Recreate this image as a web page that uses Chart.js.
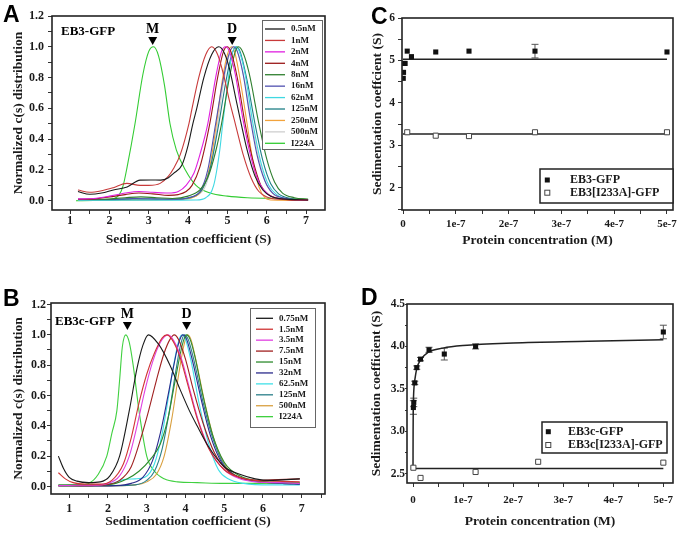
<!DOCTYPE html>
<html>
<head>
<meta charset="utf-8">
<title>EB3 sedimentation velocity</title>
<script src="https://cdn.jsdelivr.net/npm/chart.js@4.4.1/dist/chart.umd.min.js"></script>
<style>
  body { margin: 0; background: #fff; }
  #fig { position: relative; width: 683px; height: 536px; overflow: hidden; background: #fff; }
  .panel { position: absolute; }
  .tag { position: absolute; font: bold 23px "Liberation Sans", Arial, sans-serif; line-height: 23px; color: #000; }
</style>
</head>
<body>
<div id="fig">
  <div class="panel" style="left:0;top:0;width:340px;height:268px"><canvas id="chartA"></canvas></div>
  <div class="panel" style="left:340px;top:0;width:343px;height:268px"><canvas id="chartC"></canvas></div>
  <div class="panel" style="left:0;top:268px;width:340px;height:268px"><canvas id="chartB"></canvas></div>
  <div class="panel" style="left:340px;top:268px;width:343px;height:268px"><canvas id="chartD"></canvas></div>
  <div class="tag" style="left:3px;top:3px">A</div>
  <div class="tag" style="left:371px;top:5px">C</div>
  <div class="tag" style="left:3px;top:287px">B</div>
  <div class="tag" style="left:361px;top:286px">D</div>
</div>
<script>
// ---- Panel A: EB3-GFP, normalized c(s), points are [S, c(s)] ----
const labelsA = ["0.5nM", "1nM", "2nM", "4nM", "8nM", "16nM", "62nM", "125nM", "250nM", "500nM", "I224A"];
const colorsA = ["#1a1a1a", "#c83a3a", "#e020e0", "#9a1818", "#2f7f2f", "#5050b0", "#3fd8e2", "#1f7f86", "#f2a33c", "#cfcfcf", "#33cc33"];
const a_05 = [[1.2,0.06],[1.5,0.042],[1.8,0.05],[2.1,0.07],[2.45,0.09],[2.78,0.134],[3.05,0.135],[3.3,0.134],[3.5,0.15],[3.63,0.178],[3.84,0.23],[4.0,0.36],[4.12,0.5],[4.22,0.6],[4.4,0.8],[4.6,0.95],[4.78,1.0],[4.92,0.96],[5.05,0.86],[5.2,0.68],[5.35,0.5],[5.5,0.33],[5.7,0.16],[5.9,0.07],[6.1,0.03],[6.4,0.012],[7.05,0.005]];
const a_1 = [[1.2,0.07],[1.5,0.055],[1.8,0.065],[2.1,0.085],[2.44,0.113],[2.78,0.1],[3.0,0.1],[3.29,0.113],[3.5,0.16],[3.63,0.21],[3.8,0.3],[4.02,0.5],[4.1,0.6],[4.27,0.8],[4.45,0.95],[4.6,1.0],[4.75,0.95],[4.9,0.82],[5.05,0.65],[5.2,0.5],[5.4,0.3],[5.6,0.15],[5.8,0.06],[6.0,0.025],[6.3,0.01],[7.05,0.005]];
const a_2 = [[1.2,0.012],[1.6,0.015],[2.0,0.03],[2.4,0.05],[2.75,0.06],[3.1,0.055],[3.5,0.05],[3.75,0.06],[3.95,0.1],[4.15,0.18],[4.3,0.3],[4.5,0.5],[4.7,0.8],[4.85,0.97],[4.95,1.0],[5.05,0.97],[5.2,0.82],[5.4,0.52],[5.6,0.28],[5.8,0.12],[6.0,0.05],[6.3,0.015],[7.05,0.005]];
const a_4 = [[1.2,0.01],[1.6,0.012],[2.0,0.025],[2.4,0.04],[2.75,0.05],[3.1,0.045],[3.5,0.035],[3.75,0.04],[3.95,0.06],[4.1,0.1],[4.3,0.22],[4.55,0.5],[4.75,0.8],[4.9,0.97],[5.0,1.0],[5.1,0.96],[5.25,0.8],[5.45,0.5],[5.65,0.26],[5.85,0.1],[6.05,0.04],[6.4,0.01],[7.05,0.003]];
const a_8 = [[1.2,0.01],[1.8,0.01],[2.4,0.02],[2.8,0.025],[3.2,0.02],[3.6,0.015],[4.0,0.03],[4.3,0.07],[4.5,0.15],[4.7,0.32],[4.85,0.5],[5.05,0.8],[5.2,0.97],[5.28,1.0],[5.4,0.96],[5.55,0.83],[5.8,0.5],[6.0,0.27],[6.2,0.12],[6.4,0.05],[6.7,0.02],[7.05,0.01]];
const a_16 = [[1.2,0.008],[2.0,0.008],[2.6,0.015],[3.2,0.012],[3.7,0.01],[4.0,0.02],[4.3,0.06],[4.5,0.2],[4.7,0.5],[4.9,0.8],[5.05,0.96],[5.15,1.0],[5.25,0.97],[5.4,0.82],[5.57,0.55],[5.75,0.3],[5.95,0.13],[6.15,0.05],[6.5,0.015],[7.05,0.005]];
const a_62 = [[1.2,0.003],[2.0,0.003],[3.0,0.004],[3.8,0.004],[4.2,0.005],[4.45,0.02],[4.65,0.1],[4.8,0.32],[4.88,0.5],[5.0,0.75],[5.1,0.93],[5.2,1.0],[5.3,0.97],[5.45,0.82],[5.65,0.5],[5.85,0.25],[6.05,0.1],[6.25,0.04],[6.6,0.01],[7.05,0.004]];
const a_125 = [[1.2,0.005],[2.0,0.006],[2.7,0.012],[3.3,0.01],[3.8,0.012],[4.1,0.025],[4.35,0.07],[4.55,0.2],[4.78,0.5],[4.95,0.76],[5.1,0.94],[5.22,1.0],[5.32,0.97],[5.5,0.78],[5.7,0.5],[5.9,0.26],[6.1,0.11],[6.3,0.045],[6.6,0.015],[7.05,0.005]];
const a_250 = [[1.2,0.004],[2.0,0.004],[3.0,0.005],[3.7,0.008],[4.1,0.02],[4.35,0.07],[4.55,0.22],[4.72,0.5],[4.88,0.8],[5.0,0.95],[5.1,1.0],[5.18,0.97],[5.3,0.82],[5.5,0.5],[5.65,0.25],[5.8,0.09],[5.95,0.02],[6.1,0.005],[7.05,0.002]];
const a_500 = [[1.2,0.005],[2.0,0.005],[3.0,0.008],[3.8,0.01],[4.2,0.03],[4.45,0.1],[4.6,0.25],[4.75,0.5],[4.92,0.8],[5.05,0.95],[5.15,1.0],[5.25,0.97],[5.42,0.8],[5.6,0.53],[5.8,0.27],[6.0,0.1],[6.2,0.035],[6.5,0.01],[7.05,0.004]];
const a_I224A = [[1.15,0.0],[1.6,0.002],[2.0,0.008],[2.25,0.04],[2.35,0.1],[2.45,0.22],[2.65,0.5],[2.85,0.82],[3.0,0.97],[3.12,1.0],[3.25,0.94],[3.4,0.75],[3.54,0.5],[3.7,0.33],[3.93,0.2],[4.2,0.1],[4.56,0.05],[5.0,0.03],[5.5,0.02],[6.5,0.015],[7.05,0.01]];
const curvesA = [a_05, a_1, a_2, a_4, a_8, a_16, a_62, a_125, a_250, a_500, a_I224A];
const peakLabelsA = ["M", "D"];
const peakPosA = [3.1, 5.12];

// ---- Panel B: EB3c-GFP ----
const labelsB = ["0.75nM", "1.5nM", "3.5nM", "7.5nM", "15nM", "32nM", "62.5nM", "125nM", "500nM", "I224A"];
const colorsB = ["#1a1a1a", "#d03434", "#e040e0", "#a02020", "#2e8b2e", "#2a2a8c", "#40e0e8", "#2a7f8a", "#d9a040", "#40d040"];
const b_075 = [[0.72,0.2],[0.85,0.12],[1.0,0.06],[1.2,0.035],[1.5,0.025],[1.8,0.03],[2.05,0.07],[2.3,0.2],[2.55,0.5],[2.75,0.78],[2.9,0.93],[3.04,1.0],[3.3,0.94],[3.6,0.8],[3.86,0.64],[4.1,0.5],[4.3,0.4],[4.6,0.26],[5.0,0.13],[5.4,0.08],[5.8,0.05],[6.2,0.04],[6.6,0.045],[6.95,0.05]];
const b_15 = [[0.72,0.09],[0.9,0.05],[1.1,0.025],[1.4,0.015],[1.8,0.015],[2.1,0.04],[2.4,0.15],[2.6,0.32],[2.8,0.55],[3.0,0.74],[3.2,0.88],[3.4,0.98],[3.52,1.0],[3.65,0.97],[3.85,0.86],[4.05,0.68],[4.3,0.45],[4.6,0.25],[5.0,0.11],[5.4,0.06],[5.8,0.04],[6.3,0.035],[6.95,0.03]];
const b_35 = [[0.72,0.005],[1.2,0.008],[1.6,0.008],[2.0,0.02],[2.3,0.07],[2.55,0.2],[2.75,0.4],[2.95,0.63],[3.15,0.82],[3.35,0.95],[3.55,1.0],[3.7,0.96],[3.9,0.84],[4.1,0.65],[4.35,0.42],[4.65,0.23],[5.0,0.11],[5.4,0.05],[5.8,0.03],[6.4,0.025],[6.95,0.02]];
const b_75 = [[0.72,0.005],[1.4,0.005],[1.9,0.01],[2.3,0.04],[2.6,0.13],[2.85,0.32],[3.05,0.5],[3.25,0.7],[3.45,0.88],[3.6,0.97],[3.71,1.0],[3.82,0.97],[4.0,0.84],[4.2,0.64],[4.45,0.42],[4.75,0.22],[5.1,0.1],[5.5,0.05],[5.9,0.04],[6.4,0.045],[6.95,0.05]];
const b_15nM = [[0.72,0.01],[1.2,0.01],[1.8,0.01],[2.2,0.02],[2.5,0.05],[2.8,0.1],[3.1,0.18],[3.35,0.28],[3.55,0.45],[3.72,0.68],[3.87,0.88],[3.96,0.97],[4.03,1.0],[4.12,0.97],[4.25,0.85],[4.45,0.6],[4.7,0.34],[5.0,0.16],[5.4,0.07],[5.9,0.035],[6.5,0.025],[6.95,0.02]];
const b_32 = [[0.72,0.005],[1.5,0.003],[2.2,0.005],[2.6,0.02],[2.9,0.06],[3.15,0.17],[3.35,0.35],[3.55,0.6],[3.7,0.8],[3.83,0.95],[3.93,1.0],[4.03,0.97],[4.18,0.83],[4.4,0.58],[4.65,0.33],[4.95,0.15],[5.3,0.07],[5.8,0.035],[6.5,0.02],[6.95,0.015]];
const b_625 = [[0.72,0.005],[1.5,0.008],[2.1,0.02],[2.4,0.045],[2.7,0.05],[2.95,0.06],[3.2,0.15],[3.4,0.35],[3.58,0.62],[3.73,0.85],[3.85,0.98],[3.92,1.0],[4.0,0.97],[4.15,0.82],[4.35,0.55],[4.6,0.28],[4.85,0.11],[5.1,0.05],[5.5,0.02],[6.2,0.01],[6.95,0.01]];
const b_125 = [[0.72,0.005],[1.5,0.005],[2.2,0.005],[2.7,0.01],[3.0,0.04],[3.2,0.1],[3.4,0.25],[3.6,0.52],[3.75,0.76],[3.87,0.93],[3.97,1.0],[4.07,0.97],[4.22,0.83],[4.45,0.56],[4.7,0.32],[5.0,0.14],[5.3,0.07],[5.8,0.035],[6.5,0.02],[6.95,0.015]];
const b_500 = [[0.72,0.003],[1.5,0.003],[2.2,0.005],[2.7,0.01],[3.0,0.03],[3.25,0.08],[3.45,0.2],[3.65,0.45],[3.8,0.7],[3.95,0.92],[4.05,1.0],[4.14,0.97],[4.28,0.82],[4.5,0.55],[4.75,0.3],[5.05,0.13],[5.4,0.06],[5.9,0.03],[6.5,0.02],[6.95,0.015]];
const b_I224A = [[0.75,0.005],[1.2,0.01],[1.5,0.02],[1.75,0.08],[1.97,0.2],[2.1,0.35],[2.23,0.5],[2.3,0.7],[2.37,0.92],[2.46,1.0],[2.55,0.95],[2.65,0.8],[2.8,0.5],[3.0,0.2],[3.2,0.1],[3.45,0.05],[3.8,0.03],[4.3,0.025],[5.0,0.02],[6.0,0.02],[6.95,0.025]];
const curvesB = [b_075, b_15, b_35, b_75, b_15nM, b_32, b_625, b_125, b_500, b_I224A];
const peakLabelsB = ["M", "D"];
const peakPosB = [2.5, 4.03];

// ---- Panel C: EB3-GFP sedimentation coefficient vs concentration (nM) ----
const concC = [0.5, 1, 2, 4, 8, 16, 62, 125, 250, 500];
const sC = [4.58, 4.72, 4.93, 4.93, 5.22, 5.09, 5.2, 5.22, 5.22, 5.2];
const errC = [0, 0, 0, 0, 0, 0, 0, 0, 0.16, 0];
const concMutC = [8, 62, 125, 250, 500];
const sMutC = [3.31, 3.23, 3.22, 3.31, 3.31];
const fitCx = [0, 500];
const fitCy = [5.03, 5.03];
const fitMutCy = [3.27, 3.27];
const legendC = ["EB3-GFP", "EB3[I233A]-GFP"];

// ---- Panel D: EB3c-GFP ----
const concD = [0.75, 1.5, 3.5, 7.5, 15, 32, 62.5, 125, 500];
const sD = [3.28, 3.34, 3.57, 3.75, 3.85, 3.96, 3.91, 4.0, 4.17];
const errD = [0.08, 0.05, 0.02, 0.02, 0.02, 0.03, 0.07, 0.03, 0.08];
const concMutD = [0.75, 15, 125, 250, 500];
const sMutD = [2.57, 2.45, 2.52, 2.64, 2.63];
const fitDx = [0, 0.2, 0.5, 1, 2, 4, 8, 15, 30, 60, 100, 200, 350, 500];
const fitDy = [2.56, 3.0, 3.25, 3.4, 3.52, 3.62, 3.75, 3.84, 3.93, 3.98, 4.01, 4.04, 4.06, 4.08];
const fitMutDx = [0, 500];
const fitMutDy = [2.56, 2.56];
const legendD = ["EB3c-GFP", "EB3c[I233A]-GFP"];

const SERIF = '"Liberation Serif", "Times New Roman", serif';
const INK = "#1a1a1a";

function zip(xs, ys) {
  return xs.map((x, i) => [x, ys[i]]);
}

// box around the plot area
const frame = {
  id: "frame",
  afterDraw(chart) {
    const { left, top, right, bottom } = chart.chartArea;
    const ctx = chart.ctx;
    ctx.save();
    ctx.strokeStyle = "#222";
    ctx.lineWidth = 1.6;
    ctx.strokeRect(left, top, right - left, bottom - top);
    ctx.restore();
  },
};

const errorBars = {
  id: "errorBars",
  beforeDatasetsDraw(chart) {
    const ctx = chart.ctx;
    const xs = chart.scales.x, ys = chart.scales.y;
    chart.data.datasets.forEach((ds) => {
      if (!ds.errors) return;
      ds.data.forEach((p, j) => {
        const e = ds.errors[j];
        if (!e) return;
        const x = xs.getPixelForValue(p[0]);
        const y1 = ys.getPixelForValue(p[1] + e);
        const y2 = ys.getPixelForValue(p[1] - e);
        ctx.save();
        ctx.strokeStyle = "#555";
        ctx.lineWidth = 1;
        ctx.beginPath();
        ctx.moveTo(x, y1); ctx.lineTo(x, y2);
        ctx.moveTo(x - 3.5, y1); ctx.lineTo(x + 3.5, y1);
        ctx.moveTo(x - 3.5, y2); ctx.lineTo(x + 3.5, y2);
        ctx.stroke();
        ctx.restore();
      });
    });
  },
};

function lineLegend(cfg) {
  return {
    id: "lineLegend",
    afterDraw(chart) {
      const ctx = chart.ctx;
      const [x1, y1, x2, y2] = cfg.box;
      ctx.save();
      ctx.fillStyle = "#fff";
      ctx.fillRect(x1, y1, x2 - x1, y2 - y1);
      ctx.strokeStyle = "#666";
      ctx.lineWidth = 1;
      ctx.strokeRect(x1 + 0.5, y1 + 0.5, x2 - x1, y2 - y1);
      ctx.font = "bold " + cfg.size + "px " + SERIF;
      ctx.textBaseline = "middle";
      ctx.textAlign = "left";
      cfg.labels.forEach((t, i) => {
        const y = cfg.y0 + i * cfg.dy;
        ctx.strokeStyle = cfg.colors[i];
        ctx.lineWidth = 1.3;
        ctx.beginPath();
        ctx.moveTo(cfg.lx[0], y);
        ctx.lineTo(cfg.lx[1], y);
        ctx.stroke();
        ctx.fillStyle = INK;
        ctx.fillText(t, cfg.tx, y);
      });
      ctx.restore();
    },
  };
}

function markLegend(cfg) {
  return {
    id: "markLegend",
    afterDraw(chart) {
      const ctx = chart.ctx;
      const [x1, y1, x2, y2] = cfg.box;
      ctx.save();
      ctx.fillStyle = "#fff";
      ctx.fillRect(x1, y1, x2 - x1, y2 - y1);
      ctx.strokeStyle = "#222";
      ctx.lineWidth = 1.5;
      ctx.strokeRect(x1, y1, x2 - x1, y2 - y1);
      ctx.font = "bold " + cfg.size + "px " + SERIF;
      ctx.textBaseline = "middle";
      ctx.textAlign = "left";
      cfg.labels.forEach((t, i) => {
        const y = cfg.rows[i];
        if (i === 0) {
          ctx.fillStyle = "#111";
          ctx.fillRect(cfg.mx - 2.5, y - 2.5, 5, 5);
        } else {
          ctx.strokeStyle = "#444";
          ctx.lineWidth = 1;
          ctx.strokeRect(cfg.mx - 2.5, y - 2.5, 5, 5);
        }
        ctx.fillStyle = INK;
        ctx.fillText(t, cfg.tx, y);
      });
      ctx.restore();
    },
  };
}

function peakMarks(cfg) {
  return {
    id: "peakMarks",
    afterDraw(chart) {
      const ctx = chart.ctx;
      const xs = chart.scales.x;
      ctx.save();
      ctx.fillStyle = "#000";
      ctx.textBaseline = "alphabetic";
      ctx.textAlign = "left";
      ctx.font = "bold 13px " + SERIF;
      ctx.fillText(cfg.name, cfg.nameX, cfg.nameY);
      ctx.textAlign = "center";
      ctx.font = "bold 14px " + SERIF;
      cfg.labels.forEach((t, i) => {
        const x = xs.getPixelForValue(cfg.at[i]);
        ctx.fillText(t, x, cfg.textY);
        ctx.beginPath();
        ctx.moveTo(x - 4.5, cfg.triY);
        ctx.lineTo(x + 4.5, cfg.triY);
        ctx.lineTo(x, cfg.triY + 8);
        ctx.closePath();
        ctx.fill();
      });
      ctx.restore();
    },
  };
}

function scales(c) {
  const tickFont = { family: SERIF, size: c.tickSize, weight: "bold" };
  const titleFont = { family: SERIF, size: 13.5, weight: "bold" };
  return {
    x: {
      type: "linear",
      position: "bottom",
      min: c.x.min,
      max: c.x.max,
      afterFit: (s) => { s.height = c.x.h; },
      border: { display: false },
      grid: { drawOnChartArea: false, tickLength: 4, tickColor: "#333", tickWidth: 1 },
      ticks: {
        stepSize: c.x.step, autoSkip: false, includeBounds: false, maxRotation: 0,
        padding: c.x.pad, color: INK, font: { ...tickFont, size: c.x.size || c.tickSize }, callback: c.x.fmt,
      },
      title: { display: true, text: c.x.title, color: INK, font: titleFont, padding: { top: 0, bottom: c.x.tpad } },
    },
    y: {
      type: "linear",
      position: "left",
      min: c.y.min,
      max: c.y.max,
      afterFit: (s) => { s.width = c.y.w; },
      border: { display: false },
      grid: { drawOnChartArea: false, tickLength: c.y.tl || 4, tickColor: "#333", tickWidth: 1 },
      ticks: {
        stepSize: c.y.step, autoSkip: false, includeBounds: false,
        padding: c.y.pad, color: INK, font: tickFont, callback: c.y.fmt,
      },
      title: { display: true, text: c.y.title, color: INK, font: titleFont, padding: { top: c.y.tpad, bottom: 0 } },
    },
  };
}

function baseOptions(pad, sc) {
  return {
    responsive: true,
    maintainAspectRatio: false,
    animation: false,
    layout: { autoPadding: false, padding: pad },
    plugins: { legend: { display: false }, tooltip: { enabled: false } },
    scales: sc,
  };
}

const fmtS = (v) => (Math.abs(v - Math.round(v)) < 1e-6 ? String(Math.round(v)) : "");
const fmtC = (v) => {
  const k = Math.round(v * 10);
  return k % 2 === 0 ? (k / 10).toFixed(1) : "";
};
const fmtConc = (v) => {
  const k = Math.round(v);
  if (k === 0) return "0";
  return k % 100 === 0 ? k / 100 + "e-7" : "";
};

function curveSets(curves, colors, labels) {
  return curves.map((pts, i) => ({
    label: labels[i],
    data: pts,
    showLine: true,
    borderColor: colors[i],
    borderWidth: 1.1,
    pointRadius: 0,
    cubicInterpolationMode: "monotone",
  }));
}

// Panel A
new Chart(document.getElementById("chartA"), {
  type: "scatter",
  data: { datasets: curveSets(curvesA, colorsA, labelsA) },
  options: baseOptions(
    { left: 0, top: 16, right: 15, bottom: 0 },
    scales({
      tickSize: 12,
      x: { min: 0.54, max: 7.48, step: 0.5, h: 58, pad: 0, fmt: fmtS, title: "Sedimentation coefficient (S)", tpad: 19.9 },
      y: { min: -0.06, max: 1.2, step: 0.1, w: 52, pad: 4, fmt: fmtC, title: "Normalized c(s) distribution", tpad: 10.9 },
    })
  ),
  plugins: [
    frame,
    peakMarks({ name: "EB3-GFP", nameX: 61, nameY: 35, labels: peakLabelsA, at: peakPosA, textY: 33, triY: 37 }),
    lineLegend({ box: [262, 20, 322, 149], labels: labelsA, colors: colorsA, y0: 29, dy: 11.43, lx: [265, 285], tx: 291, size: 9 }),
  ],
});

// Panel B
new Chart(document.getElementById("chartB"), {
  type: "scatter",
  data: { datasets: curveSets(curvesB, colorsB, labelsB) },
  options: baseOptions(
    { left: 0, top: 35, right: 15, bottom: 0 },
    scales({
      tickSize: 12,
      x: { min: 0.53, max: 7.6, step: 0.5, h: 42, pad: 3.6, fmt: fmtS, title: "Sedimentation coefficient (S)", tpad: 6.2 },
      y: { min: -0.05, max: 1.21, step: 0.1, w: 51, pad: 1, fmt: fmtC, title: "Normalized c(s) distribution", tpad: 10.7 },
    })
  ),
  plugins: [
    frame,
    peakMarks({ name: "EB3c-GFP", nameX: 55, nameY: 57, labels: peakLabelsB, at: peakPosB, textY: 50, triY: 54 }),
    lineLegend({ box: [250, 40, 315, 159], labels: labelsB, colors: colorsB, y0: 50.3, dy: 10.93, lx: [256, 273], tx: 279, size: 9 }),
  ],
});

// Panel C
new Chart(document.getElementById("chartC"), {
  type: "scatter",
  data: {
    datasets: [
      { label: legendC[0], data: zip(concC, sC), errors: errC, pointStyle: "rect", pointRadius: 3.6, backgroundColor: "#111", borderColor: "#111", borderWidth: 0 },
      { label: legendC[1], data: zip(concMutC, sMutC), pointStyle: "rect", pointRadius: 3.6, backgroundColor: "#fff", borderColor: "#444", borderWidth: 1 },
      { label: "fit", data: zip(fitCx, fitCy), showLine: true, pointRadius: 0, borderColor: "#222", borderWidth: 1.5 },
      { label: "fit mutant", data: zip(fitCx, fitMutCy), showLine: true, pointRadius: 0, borderColor: "#222", borderWidth: 1.5 },
    ],
  },
  options: baseOptions(
    { left: 0, top: 18, right: 10, bottom: 0 },
    scales({
      tickSize: 11.5,
      x: { min: -1.9, max: 511.4, step: 50, h: 58, pad: 3.8, size: 11, fmt: fmtConc, title: "Protein concentration (M)", tpad: 19.2 },
      y: { min: 1.48, max: 6, step: 0.5, w: 62, pad: 3, fmt: fmtS, title: "Sedimentation coeffcient (S)", tpad: 29.9 },
    })
  ),
  plugins: [frame, errorBars, markLegend({ box: [200, 169, 333, 203], labels: legendC, rows: [180, 192.7], mx: 207.3, tx: 230, size: 12 })],
});

// Panel D
new Chart(document.getElementById("chartD"), {
  type: "scatter",
  data: {
    datasets: [
      { label: legendD[0], data: zip(concD, sD), errors: errD, pointStyle: "rect", pointRadius: 3.6, backgroundColor: "#111", borderColor: "#111", borderWidth: 0 },
      { label: legendD[1], data: zip(concMutD, sMutD), pointStyle: "rect", pointRadius: 3.6, backgroundColor: "#fff", borderColor: "#444", borderWidth: 1 },
      { label: "fit", data: zip(fitDx, fitDy), showLine: true, pointRadius: 0, borderColor: "#222", borderWidth: 1.5, cubicInterpolationMode: "monotone" },
      { label: "fit mutant", data: zip(fitMutDx, fitMutDy), showLine: true, pointRadius: 0, borderColor: "#222", borderWidth: 1.5 },
    ],
  },
  options: baseOptions(
    { left: 0, top: 36, right: 10, bottom: 0 },
    scales({
      tickSize: 11.5,
      x: { min: -12, max: 519.3, step: 50, h: 53, pad: 6.8, size: 11, fmt: fmtConc, title: "Protein concentration (M)", tpad: 6.2 },
      y: { min: 2.39, max: 4.5, step: 0.25, w: 67, pad: 0, tl: 2, fmt: (v) => (Math.round(v * 4) % 2 === 0 ? v.toFixed(1) : ""), title: "Sedimentation coefficient (S)", tpad: 28.2 },
    })
  ),
  plugins: [frame, errorBars, markLegend({ box: [202, 154, 327, 185], labels: legendD, rows: [163.7, 177], mx: 208.3, tx: 228, size: 12 })],
});
</script>
</body>
</html>
